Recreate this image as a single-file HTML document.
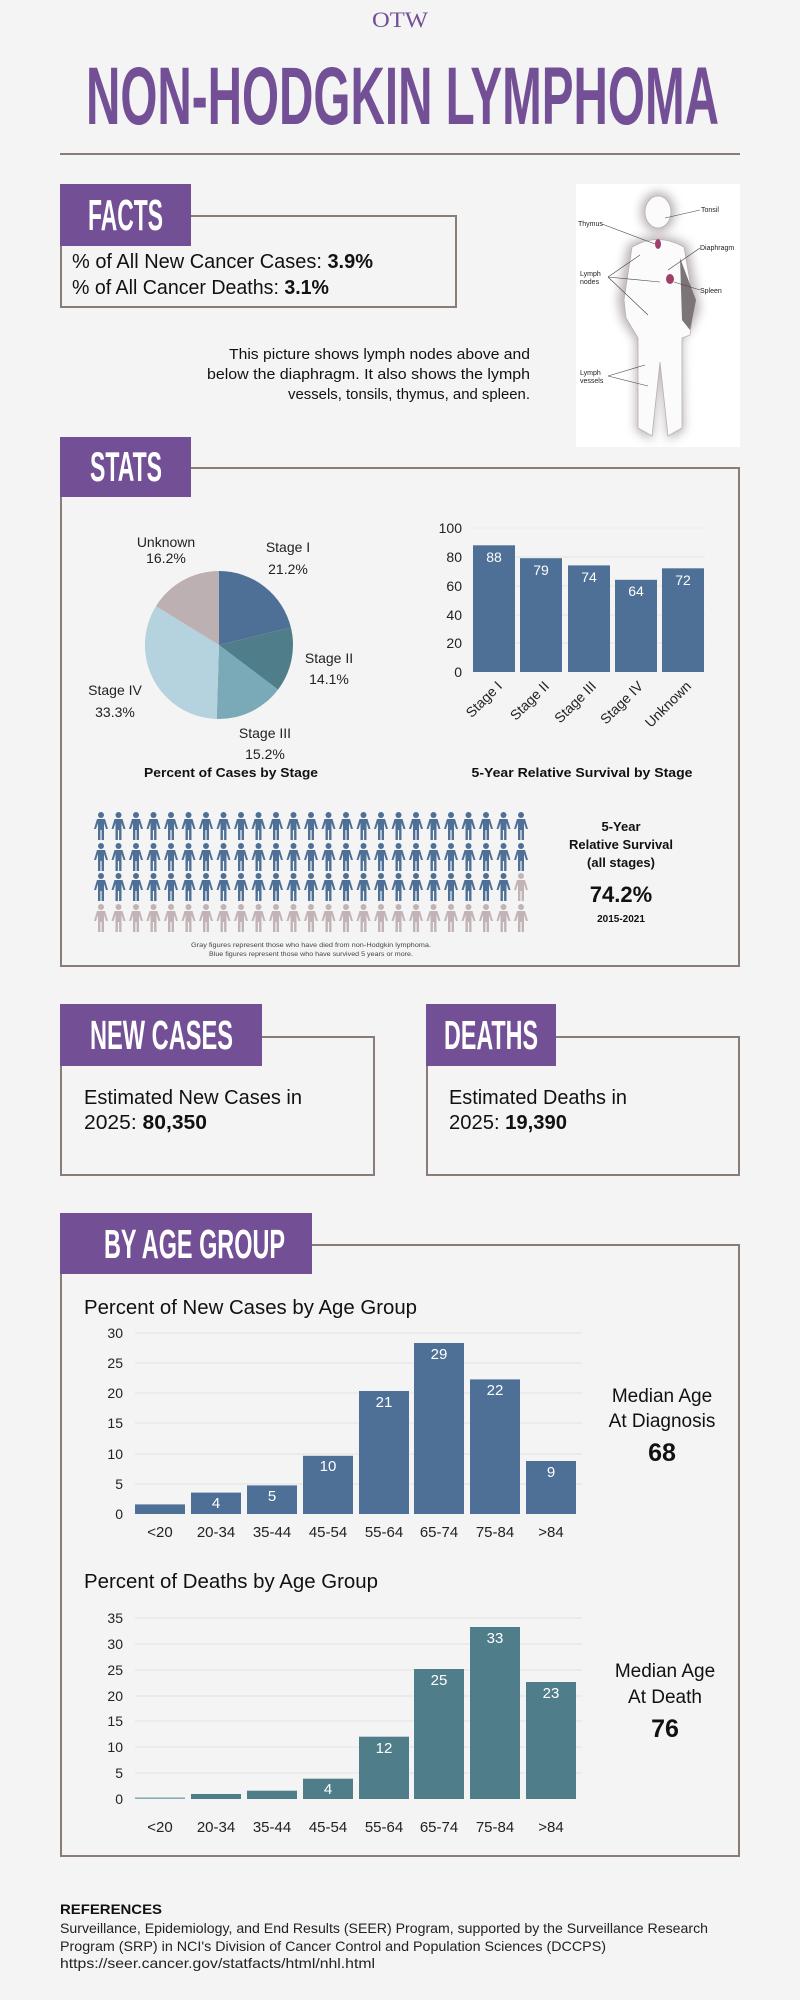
<!DOCTYPE html>
<html><head><meta charset="utf-8"><style>
html,body{margin:0;padding:0;background:#f4f4f4;}
svg{display:block;font-family:"Liberation Sans",sans-serif;}
</style></head><body>
<svg width="800" height="2000" viewBox="0 0 800 2000" xmlns="http://www.w3.org/2000/svg">
<defs>
<symbol id="p" viewBox="-7 0 14 28" overflow="visible">
<circle cx="0" cy="3" r="3"/>
<path d="M-4,7 H4 L7,17 H5 L3,11 V28 H0.6 V18 H-0.6 V28 H-3 V11 L-5,17 H-7 Z"/>
</symbol>
<filter id="bl" x="-20%" y="-20%" width="140%" height="140%"><feGaussianBlur stdDeviation="5"/></filter>
</defs>
<rect width="800" height="2000" fill="#f4f4f4"/>

<!-- logo -->
<text x="400" y="27" text-anchor="middle" font-family="Liberation Serif" font-size="22" fill="#734f96" textLength="56" lengthAdjust="spacingAndGlyphs">OTW</text>

<!-- title -->
<text x="86" y="124" font-size="82" font-weight="bold" fill="#734f96" textLength="633" lengthAdjust="spacingAndGlyphs">NON-HODGKIN LYMPHOMA</text>
<rect x="60" y="153" width="680" height="2" fill="#8a7d78"/>

<!-- FACTS -->
<rect x="61" y="216" width="395" height="91" fill="none" stroke="#8a7d78" stroke-width="2"/>
<rect x="60" y="184" width="131" height="62" fill="#734f96"/>
<text x="88" y="230" font-size="44" font-weight="bold" fill="#fff" textLength="75" lengthAdjust="spacingAndGlyphs">FACTS</text>
<text x="72" y="268" font-size="20" fill="#111" textLength="301" lengthAdjust="spacingAndGlyphs">% of All New Cancer Cases: <tspan font-weight="bold">3.9%</tspan></text>
<text x="72" y="294" font-size="20" fill="#111" textLength="257" lengthAdjust="spacingAndGlyphs">% of All Cancer Deaths: <tspan font-weight="bold">3.1%</tspan></text>

<text x="530" y="359" text-anchor="end" font-size="15" fill="#111" textLength="301" lengthAdjust="spacingAndGlyphs">This picture shows lymph nodes above and</text>
<text x="530" y="379" text-anchor="end" font-size="15" fill="#111" textLength="323" lengthAdjust="spacingAndGlyphs">below the diaphragm. It also shows the lymph</text>
<text x="530" y="399" text-anchor="end" font-size="15" fill="#111" textLength="242" lengthAdjust="spacingAndGlyphs">vessels, tonsils, thymus, and spleen.</text>

<!-- body image -->
<rect x="576" y="184" width="164" height="263" fill="#fff"/>
<g filter="url(#bl)" fill="#9a9092" opacity="0.7">
<ellipse cx="658" cy="212" rx="17" ry="20"/>
<path d="M628,245 Q658,228 688,245 L700,310 L690,330 L682,340 L684,430 L668,440 L660,360 L652,440 L636,430 L636,340 L622,320 L618,300 Z"/>
</g>
<g fill="#fbfbfb" stroke="#b9b1b3" stroke-width="0.8">
<ellipse cx="658" cy="212" rx="13" ry="16"/>
<path d="M632,247 Q658,232 684,247 L694,305 L690,335 L682,338 L682,428 L668,436 L660,362 L652,436 L638,428 L638,338 L626,318 L624,300 Z"/>
</g>
<path d="M680,258 L696,300 L690,330 L682,320 Z" fill="#7c7577"/>
<ellipse cx="658" cy="244" rx="3" ry="5" fill="#a0406a"/>
<ellipse cx="670" cy="279" rx="4" ry="5" fill="#a0406a"/>
<g stroke="#444" stroke-width="0.6" fill="none">
<path d="M700,210 L665,218"/><path d="M602,224 L655,244"/><path d="M700,248 L668,270"/><path d="M700,290 L674,282"/>
<path d="M608,277 L640,255 M608,277 L660,282 M608,277 L648,315"/>
<path d="M608,376 L645,365 M608,376 L648,386"/>
</g>
<g font-size="7" fill="#222">
<text x="701" y="212">Tonsil</text>
<text x="578" y="226">Thymus</text>
<text x="700" y="250">Diaphragm</text>
<text x="580" y="276">Lymph</text><text x="580" y="284">nodes</text>
<text x="700" y="293">Spleen</text>
<text x="580" y="375">Lymph</text><text x="580" y="383">vessels</text>
</g>

<!-- STATS -->
<rect x="61" y="468" width="678" height="498" fill="none" stroke="#8a7d78" stroke-width="2"/>
<rect x="60" y="437" width="131" height="60" fill="#734f96"/>
<text x="90" y="481" font-size="42" font-weight="bold" fill="#fff" textLength="72" lengthAdjust="spacingAndGlyphs">STATS</text>

<!-- pie -->
<path d="M219,645 L219,571 A74,74 0 0 1 290.9,627.5 Z" fill="#4f7096"/>
<path d="M219,645 L290.9,627.5 A74,74 0 0 1 278,689.6 Z" fill="#4f7d8a"/>
<path d="M219,645 L278,689.6 A74,74 0 0 1 216.7,719 Z" fill="#7aa9b8"/>
<path d="M219,645 L216.7,719 A74,74 0 0 1 156,606.1 Z" fill="#b5d3de"/>
<path d="M219,645 L156,606.1 A74,74 0 0 1 219,571 Z" fill="#bcb0b2"/>
<g font-size="14" fill="#222" text-anchor="middle">
<text x="166" y="547">Unknown</text><text x="166" y="563">16.2%</text>
<text x="288" y="552">Stage I</text><text x="288" y="574">21.2%</text>
<text x="329" y="663">Stage II</text><text x="329" y="684">14.1%</text>
<text x="265" y="738">Stage III</text><text x="265" y="759">15.2%</text>
<text x="115" y="695">Stage IV</text><text x="115" y="717">33.3%</text>
</g>
<text x="231" y="777" text-anchor="middle" font-size="13" font-weight="bold" fill="#111" textLength="174" lengthAdjust="spacingAndGlyphs">Percent of Cases by Stage</text>

<!-- survival by stage -->
<g stroke="#e4e4e4" stroke-width="1">
<line x1="473" y1="528" x2="705" y2="528" stroke-dasharray="2,2"/><line x1="473" y1="557" x2="705" y2="557"/><line x1="473" y1="586" x2="705" y2="586"/><line x1="473" y1="615" x2="705" y2="615"/><line x1="473" y1="643" x2="705" y2="643"/>
</g>
<g font-size="14" fill="#222" text-anchor="end">
<text x="462" y="533">100</text><text x="462" y="562">80</text><text x="462" y="591">60</text><text x="462" y="620">40</text><text x="462" y="648">20</text><text x="462" y="677">0</text>
</g>
<g fill="#4e7096">
<rect x="473" y="545.3" width="42" height="126.7"/>
<rect x="520" y="558.2" width="42" height="113.8"/>
<rect x="568" y="565.4" width="42" height="106.6"/>
<rect x="615" y="579.8" width="42" height="92.2"/>
<rect x="662" y="568.3" width="42" height="103.7"/>
</g>
<g font-size="14" fill="#fff" text-anchor="middle">
<text x="494" y="562">88</text><text x="541" y="575">79</text><text x="589" y="582">74</text><text x="636" y="596">64</text><text x="683" y="585">72</text>
</g>
<g font-size="14" fill="#222" text-anchor="end">
<text transform="translate(503,687) rotate(-45)">Stage I</text>
<text transform="translate(550,687) rotate(-45)">Stage II</text>
<text transform="translate(597,687) rotate(-45)">Stage III</text>
<text transform="translate(644,687) rotate(-45)">Stage IV</text>
<text transform="translate(692,687) rotate(-45)">Unknown</text>
</g>
<text x="582" y="777" text-anchor="middle" font-size="13" font-weight="bold" fill="#111" textLength="221" lengthAdjust="spacingAndGlyphs">5-Year Relative Survival by Stage</text>

<!-- people grid -->
<g fill="#4e7096">
<use href="#p" x="94" y="812" width="14" height="28"/><use href="#p" x="111.5" y="812" width="14" height="28"/><use href="#p" x="129" y="812" width="14" height="28"/><use href="#p" x="146.5" y="812" width="14" height="28"/><use href="#p" x="164" y="812" width="14" height="28"/><use href="#p" x="181.5" y="812" width="14" height="28"/><use href="#p" x="199" y="812" width="14" height="28"/><use href="#p" x="216.5" y="812" width="14" height="28"/><use href="#p" x="234" y="812" width="14" height="28"/><use href="#p" x="251.5" y="812" width="14" height="28"/><use href="#p" x="269" y="812" width="14" height="28"/><use href="#p" x="286.5" y="812" width="14" height="28"/><use href="#p" x="304" y="812" width="14" height="28"/><use href="#p" x="321.5" y="812" width="14" height="28"/><use href="#p" x="339" y="812" width="14" height="28"/><use href="#p" x="356.5" y="812" width="14" height="28"/><use href="#p" x="374" y="812" width="14" height="28"/><use href="#p" x="391.5" y="812" width="14" height="28"/><use href="#p" x="409" y="812" width="14" height="28"/><use href="#p" x="426.5" y="812" width="14" height="28"/><use href="#p" x="444" y="812" width="14" height="28"/><use href="#p" x="461.5" y="812" width="14" height="28"/><use href="#p" x="479" y="812" width="14" height="28"/><use href="#p" x="496.5" y="812" width="14" height="28"/><use href="#p" x="514" y="812" width="14" height="28"/>
<use href="#p" x="94" y="843" width="14" height="28"/><use href="#p" x="111.5" y="843" width="14" height="28"/><use href="#p" x="129" y="843" width="14" height="28"/><use href="#p" x="146.5" y="843" width="14" height="28"/><use href="#p" x="164" y="843" width="14" height="28"/><use href="#p" x="181.5" y="843" width="14" height="28"/><use href="#p" x="199" y="843" width="14" height="28"/><use href="#p" x="216.5" y="843" width="14" height="28"/><use href="#p" x="234" y="843" width="14" height="28"/><use href="#p" x="251.5" y="843" width="14" height="28"/><use href="#p" x="269" y="843" width="14" height="28"/><use href="#p" x="286.5" y="843" width="14" height="28"/><use href="#p" x="304" y="843" width="14" height="28"/><use href="#p" x="321.5" y="843" width="14" height="28"/><use href="#p" x="339" y="843" width="14" height="28"/><use href="#p" x="356.5" y="843" width="14" height="28"/><use href="#p" x="374" y="843" width="14" height="28"/><use href="#p" x="391.5" y="843" width="14" height="28"/><use href="#p" x="409" y="843" width="14" height="28"/><use href="#p" x="426.5" y="843" width="14" height="28"/><use href="#p" x="444" y="843" width="14" height="28"/><use href="#p" x="461.5" y="843" width="14" height="28"/><use href="#p" x="479" y="843" width="14" height="28"/><use href="#p" x="496.5" y="843" width="14" height="28"/><use href="#p" x="514" y="843" width="14" height="28"/>
<use href="#p" x="94" y="873" width="14" height="28"/><use href="#p" x="111.5" y="873" width="14" height="28"/><use href="#p" x="129" y="873" width="14" height="28"/><use href="#p" x="146.5" y="873" width="14" height="28"/><use href="#p" x="164" y="873" width="14" height="28"/><use href="#p" x="181.5" y="873" width="14" height="28"/><use href="#p" x="199" y="873" width="14" height="28"/><use href="#p" x="216.5" y="873" width="14" height="28"/><use href="#p" x="234" y="873" width="14" height="28"/><use href="#p" x="251.5" y="873" width="14" height="28"/><use href="#p" x="269" y="873" width="14" height="28"/><use href="#p" x="286.5" y="873" width="14" height="28"/><use href="#p" x="304" y="873" width="14" height="28"/><use href="#p" x="321.5" y="873" width="14" height="28"/><use href="#p" x="339" y="873" width="14" height="28"/><use href="#p" x="356.5" y="873" width="14" height="28"/><use href="#p" x="374" y="873" width="14" height="28"/><use href="#p" x="391.5" y="873" width="14" height="28"/><use href="#p" x="409" y="873" width="14" height="28"/><use href="#p" x="426.5" y="873" width="14" height="28"/><use href="#p" x="444" y="873" width="14" height="28"/><use href="#p" x="461.5" y="873" width="14" height="28"/><use href="#p" x="479" y="873" width="14" height="28"/><use href="#p" x="496.5" y="873" width="14" height="28"/>
</g>
<g fill="#c2b4b6">
<use href="#p" x="514" y="873" width="14" height="28"/>
<use href="#p" x="94" y="904" width="14" height="28"/><use href="#p" x="111.5" y="904" width="14" height="28"/><use href="#p" x="129" y="904" width="14" height="28"/><use href="#p" x="146.5" y="904" width="14" height="28"/><use href="#p" x="164" y="904" width="14" height="28"/><use href="#p" x="181.5" y="904" width="14" height="28"/><use href="#p" x="199" y="904" width="14" height="28"/><use href="#p" x="216.5" y="904" width="14" height="28"/><use href="#p" x="234" y="904" width="14" height="28"/><use href="#p" x="251.5" y="904" width="14" height="28"/><use href="#p" x="269" y="904" width="14" height="28"/><use href="#p" x="286.5" y="904" width="14" height="28"/><use href="#p" x="304" y="904" width="14" height="28"/><use href="#p" x="321.5" y="904" width="14" height="28"/><use href="#p" x="339" y="904" width="14" height="28"/><use href="#p" x="356.5" y="904" width="14" height="28"/><use href="#p" x="374" y="904" width="14" height="28"/><use href="#p" x="391.5" y="904" width="14" height="28"/><use href="#p" x="409" y="904" width="14" height="28"/><use href="#p" x="426.5" y="904" width="14" height="28"/><use href="#p" x="444" y="904" width="14" height="28"/><use href="#p" x="461.5" y="904" width="14" height="28"/><use href="#p" x="479" y="904" width="14" height="28"/><use href="#p" x="496.5" y="904" width="14" height="28"/><use href="#p" x="514" y="904" width="14" height="28"/>
</g>
<g font-size="6.5" fill="#444" text-anchor="middle">
<text x="311" y="947" textLength="240" lengthAdjust="spacingAndGlyphs">Gray figures represent those who have died from non-Hodgkin lymphoma.</text>
<text x="311" y="956" textLength="204" lengthAdjust="spacingAndGlyphs">Blue figures represent those who have survived 5 years or more.</text>
</g>
<g text-anchor="middle" fill="#111" font-weight="bold">
<text x="621" y="831" font-size="13">5-Year</text>
<text x="621" y="849" font-size="13">Relative Survival</text>
<text x="621" y="867" font-size="13">(all stages)</text>
<text x="621" y="902" font-size="22">74.2%</text>
<text x="621" y="922" font-size="10">2015-2021</text>
</g>

<!-- NEW CASES -->
<rect x="61" y="1037" width="313" height="138" fill="none" stroke="#8a7d78" stroke-width="2"/>
<rect x="60" y="1004" width="202" height="62" fill="#734f96"/>
<text x="90" y="1049" font-size="41" font-weight="bold" fill="#fff" textLength="143" lengthAdjust="spacingAndGlyphs">NEW CASES</text>
<text x="84" y="1104" font-size="20" fill="#111" textLength="218" lengthAdjust="spacingAndGlyphs">Estimated New Cases in</text>
<text x="84" y="1129" font-size="20" fill="#111" textLength="123" lengthAdjust="spacingAndGlyphs">2025: <tspan font-weight="bold">80,350</tspan></text>

<!-- DEATHS -->
<rect x="427" y="1037" width="312" height="138" fill="none" stroke="#8a7d78" stroke-width="2"/>
<rect x="426" y="1004" width="130" height="62" fill="#734f96"/>
<text x="444" y="1049" font-size="41" font-weight="bold" fill="#fff" textLength="94" lengthAdjust="spacingAndGlyphs">DEATHS</text>
<text x="449" y="1104" font-size="20" fill="#111" textLength="178" lengthAdjust="spacingAndGlyphs">Estimated Deaths in</text>
<text x="449" y="1129" font-size="20" fill="#111" textLength="118" lengthAdjust="spacingAndGlyphs">2025: <tspan font-weight="bold">19,390</tspan></text>

<!-- BY AGE GROUP -->
<rect x="61" y="1245" width="678" height="611" fill="none" stroke="#8a7d78" stroke-width="2"/>
<rect x="60" y="1213" width="252" height="61" fill="#734f96"/>
<text x="104" y="1258" font-size="41" font-weight="bold" fill="#fff" textLength="181" lengthAdjust="spacingAndGlyphs">BY AGE GROUP</text>

<text x="84" y="1314" font-size="20" fill="#111" textLength="333" lengthAdjust="spacingAndGlyphs">Percent of New Cases by Age Group</text>
<g stroke="#e2e2e2" stroke-width="1">
<line x1="135" y1="1333" x2="582" y2="1333"/><line x1="135" y1="1363" x2="582" y2="1363"/><line x1="135" y1="1393" x2="582" y2="1393"/><line x1="135" y1="1423" x2="582" y2="1423"/><line x1="135" y1="1454" x2="582" y2="1454"/><line x1="135" y1="1484" x2="582" y2="1484"/>
</g>
<g font-size="14" fill="#222" text-anchor="end">
<text x="123" y="1338">30</text><text x="123" y="1368">25</text><text x="123" y="1398">20</text><text x="123" y="1428">15</text><text x="123" y="1459">10</text><text x="123" y="1489">5</text><text x="123" y="1519">0</text>
</g>
<g fill="#4e7096">
<rect x="135" y="1504.4" width="50" height="9.6"/>
<rect x="191" y="1492.6" width="50" height="21.4"/>
<rect x="247" y="1485.4" width="50" height="28.6"/>
<rect x="303" y="1455.8" width="50" height="58.2"/>
<rect x="359" y="1391" width="50" height="123"/>
<rect x="414" y="1343" width="50" height="171"/>
<rect x="470" y="1379.4" width="50" height="134.6"/>
<rect x="526" y="1461" width="50" height="53"/>
</g>
<g font-size="15" fill="#fff" text-anchor="middle">
<text x="216" y="1508">4</text><text x="272" y="1501">5</text><text x="328" y="1471">10</text><text x="384" y="1407">21</text><text x="439" y="1359">29</text><text x="495" y="1395">22</text><text x="551" y="1477">9</text>
</g>
<g font-size="15" fill="#222" text-anchor="middle">
<text x="160" y="1537">&lt;20</text><text x="216" y="1537">20-34</text><text x="272" y="1537">35-44</text><text x="328" y="1537">45-54</text><text x="384" y="1537">55-64</text><text x="439" y="1537">65-74</text><text x="495" y="1537">75-84</text><text x="551" y="1537">&gt;84</text>
</g>
<g text-anchor="middle" fill="#111">
<text x="662" y="1402" font-size="19">Median Age</text>
<text x="662" y="1427" font-size="19">At Diagnosis</text>
<text x="662" y="1461" font-size="25" font-weight="bold">68</text>
</g>

<text x="84" y="1588" font-size="20" fill="#111" textLength="294" lengthAdjust="spacingAndGlyphs">Percent of Deaths by Age Group</text>
<g stroke="#e2e2e2" stroke-width="1">
<line x1="135" y1="1618" x2="582" y2="1618"/><line x1="135" y1="1644" x2="582" y2="1644"/><line x1="135" y1="1670" x2="582" y2="1670"/><line x1="135" y1="1696" x2="582" y2="1696"/><line x1="135" y1="1721" x2="582" y2="1721"/><line x1="135" y1="1747" x2="582" y2="1747"/><line x1="135" y1="1773" x2="582" y2="1773"/>
</g>
<g font-size="14" fill="#222" text-anchor="end">
<text x="123" y="1623">35</text><text x="123" y="1649">30</text><text x="123" y="1675">25</text><text x="123" y="1701">20</text><text x="123" y="1726">15</text><text x="123" y="1752">10</text><text x="123" y="1778">5</text><text x="123" y="1804">0</text>
</g>
<g fill="#4f7d8a">
<rect x="135" y="1797.4" width="50" height="1.6" fill="#8aaab8"/>
<rect x="191" y="1794" width="50" height="5"/>
<rect x="247" y="1790.7" width="50" height="8.3"/>
<rect x="303" y="1778.7" width="50" height="20.3"/>
<rect x="359" y="1736.7" width="50" height="62.3"/>
<rect x="414" y="1669" width="50" height="130"/>
<rect x="470" y="1627" width="50" height="172"/>
<rect x="526" y="1682" width="50" height="117"/>
</g>
<g font-size="15" fill="#fff" text-anchor="middle">
<text x="328" y="1794">4</text><text x="384" y="1753">12</text><text x="439" y="1685">25</text><text x="495" y="1643">33</text><text x="551" y="1698">23</text>
</g>
<g font-size="15" fill="#222" text-anchor="middle">
<text x="160" y="1832">&lt;20</text><text x="216" y="1832">20-34</text><text x="272" y="1832">35-44</text><text x="328" y="1832">45-54</text><text x="384" y="1832">55-64</text><text x="439" y="1832">65-74</text><text x="495" y="1832">75-84</text><text x="551" y="1832">&gt;84</text>
</g>
<g text-anchor="middle" fill="#111">
<text x="665" y="1677" font-size="19">Median Age</text>
<text x="665" y="1703" font-size="19">At Death</text>
<text x="665" y="1737" font-size="25" font-weight="bold">76</text>
</g>

<!-- references -->
<text x="60" y="1914" font-size="14" font-weight="bold" fill="#111" textLength="102" lengthAdjust="spacingAndGlyphs">REFERENCES</text>
<text x="60" y="1933" font-size="14" fill="#222" textLength="648" lengthAdjust="spacingAndGlyphs">Surveillance, Epidemiology, and End Results (SEER) Program, supported by the Surveillance Research</text>
<text x="60" y="1951" font-size="14" fill="#222" textLength="546" lengthAdjust="spacingAndGlyphs">Program (SRP) in NCI's Division of Cancer Control and Population Sciences (DCCPS)</text>
<text x="60" y="1968" font-size="14" fill="#222" textLength="315" lengthAdjust="spacingAndGlyphs">https://seer.cancer.gov/statfacts/html/nhl.html</text>
</svg>
</body></html>
